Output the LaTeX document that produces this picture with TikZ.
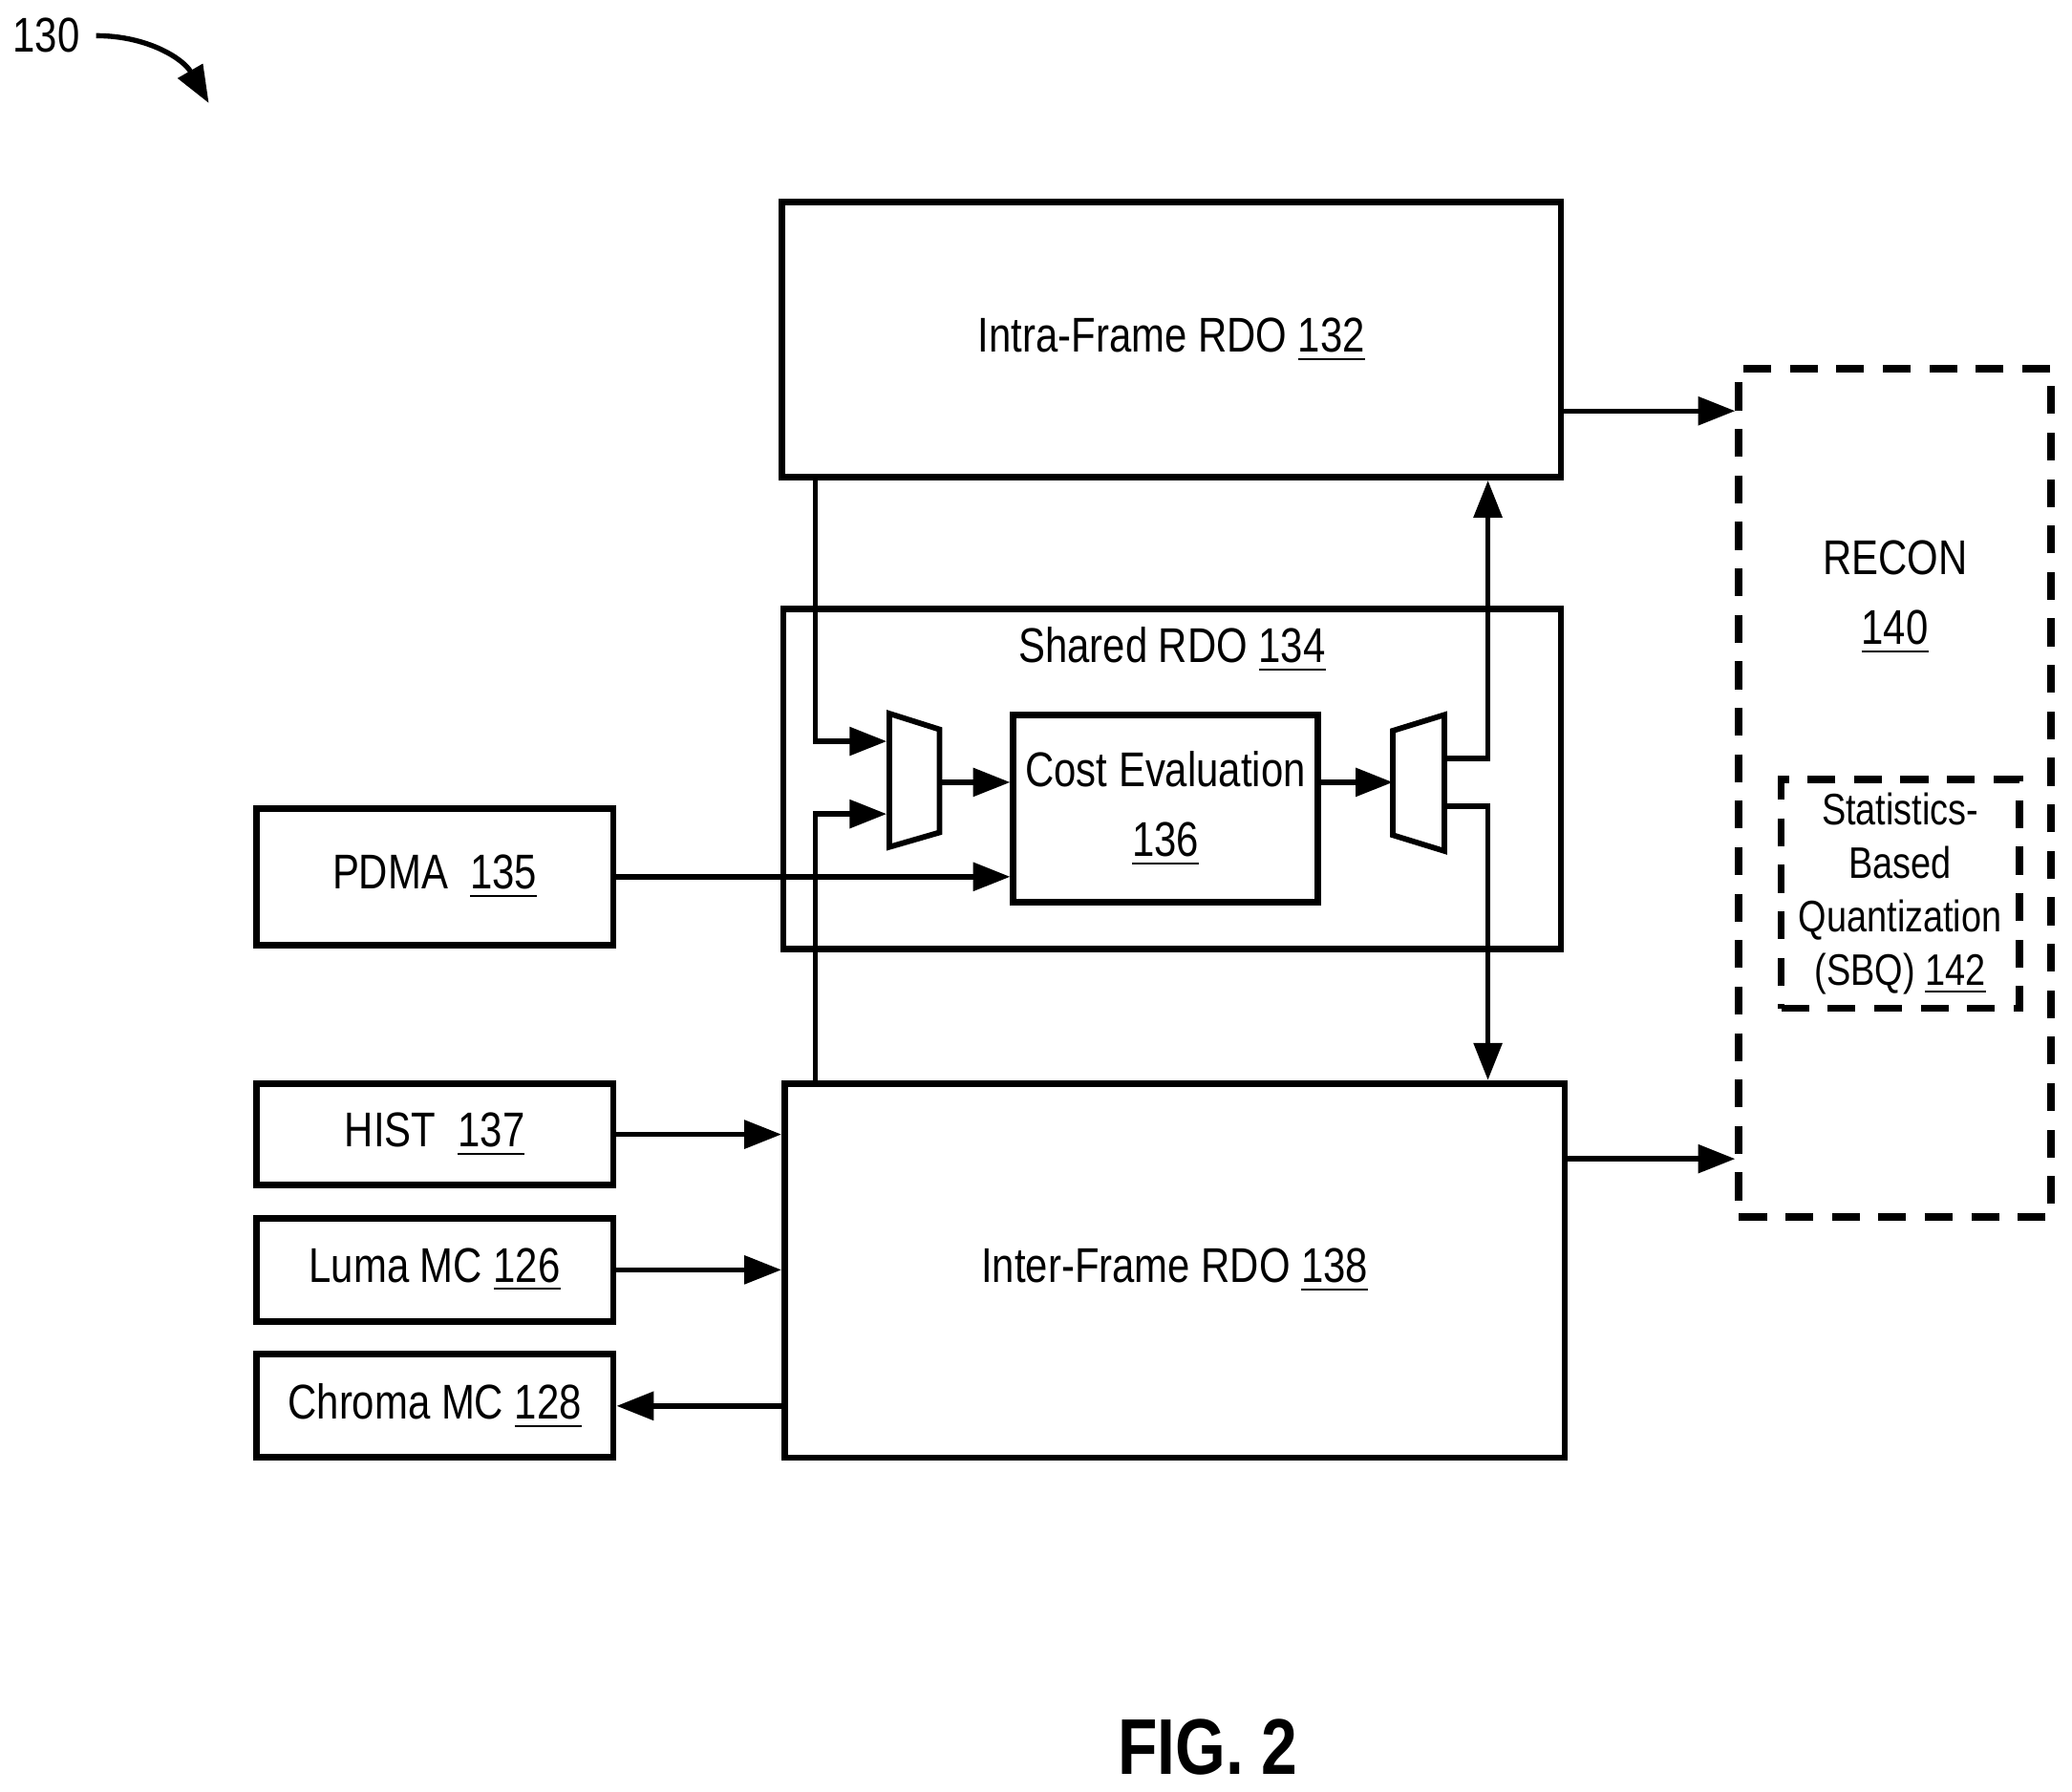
\documentclass[tikz,border=0pt]{standalone}
\usepackage{fontspec}
\setmainfont{Liberation Sans}[FakeStretch=0.82]
\usetikzlibrary{positioning,arrows.meta}
\newcommand{\num}[1]{\underline{#1}}
\begin{document}
\begin{tikzpicture}[x=0.01cm, y=-0.01cm, >={Triangle[length=8pt,width=6pt]},
    box/.style={draw, line width=1.4pt, inner sep=0pt, font=\fontsize{10.5}{13}\selectfont, align=center},
    dbox/.style={box, dash pattern=on 6pt off 4pt, line width=1.6pt},
    link/.style={line width=1.1pt}]
    \useasboundingbox (0,0) rectangle (1568,1356);
    % figure reference
    \node[font=\fontsize{10.5}{13}\selectfont] (ref) at (35,27) {130};
    \coordinate (refend) at (158,78);
    \draw[link,->] (ref.east) to[out=0, in=120] (refend);

    % main blocks
    \node[box, minimum width=5.89cm, minimum height=2.08cm] (intra) at (886.5,257) {Intra-Frame RDO \num{132}};
    \node[box, minimum width=5.88cm, minimum height=2.57cm] (shared) at (887,589.5) {};
    \node[font=\fontsize{10.5}{13}\selectfont] (sharedlbl) at (887,492) {Shared RDO \num{134}};
    \node[box, minimum width=2.30cm, minimum height=1.42cm] (cost) at (882,612) {Cost Evaluation\\[2pt]\num{136}};
    \node[box, minimum width=5.90cm, minimum height=2.83cm] (inter) at (889,961.5) {Inter-Frame RDO \num{138}};

    % inputs
    \node[box, minimum width=2.70cm, minimum height=1.03cm] (pdma) at (329,663.5) {PDMA\ \ \num{135}};
    \node[box, minimum width=2.70cm, minimum height=0.77cm] (hist) at (329,858.5) {HIST\ \ \num{137}};
    \node[box, minimum width=2.70cm, minimum height=0.78cm] (luma) at (329,961) {Luma MC \num{126}};
    \node[box, minimum width=2.70cm, minimum height=0.78cm] (chroma) at (329,1064) {Chroma MC \num{128}};

    % recon
    \node[dbox, minimum width=2.36cm, minimum height=6.42cm] (recon) at (1434,600) {};
    \node[font=\fontsize{10.5}{13}\selectfont, align=center] (reconlbl) at (1434,452) {RECON\\[2pt]\num{140}};
    \node[dbox, minimum width=1.80cm, minimum height=1.73cm, font=\fontsize{9.5}{11.5}\selectfont] (sbq) at (1438,676.5) {Statistics-\\Based\\Quantization\\(SBQ) \num{142}};

    % mux / demux
    \draw[line width=1.2pt] (673,540) -- (711,552) -- (711,630) -- (673,641) -- cycle;
    \draw[line width=1.2pt] (1054,553) -- (1093,541) -- (1093,644) -- (1054,632) -- cycle;
    \coordinate (muxa) at (671,561);
    \coordinate (muxb) at (671,616);
    \coordinate (muxo) at (711,592);
    \coordinate (demi) at (1054,592);
    \coordinate (demo1) at (1093,574);
    \coordinate (demo2) at (1093,610);

    % connectors
    \draw[link,->] (intra.south west -| 617,0) |- (muxa);
    \draw[link,->] (inter.north west -| 617,0) |- (muxb);
    \draw[link,->] (muxo) -- (muxo -| cost.west);
    \draw[link,->] (pdma.east) -- (pdma.east -| cost.west);
    \draw[link,->] (cost.east |- demi) -- (demi);
    \draw[link,->] (demo1) -| (intra.south -| 1126,0);
    \draw[link,->] (demo2) -| (inter.north -| 1126,0);
    \draw[link,->] (intra.east |- 0,311) -- (recon.west |- 0,311);
    \draw[link,->] (inter.east |- 0,877) -- (recon.west |- 0,877);
    \draw[link,->] (hist.east) -- (hist.east -| inter.west);
    \draw[link,->] (luma.east) -- (luma.east -| inter.west);
    \draw[link,->] (chroma.east -| inter.west) -- (chroma.east);

    \node[font=\bfseries\fontsize{17}{20}\selectfont] (fig) at (914,1322) {FIG. 2};
\end{tikzpicture}
\end{document}
